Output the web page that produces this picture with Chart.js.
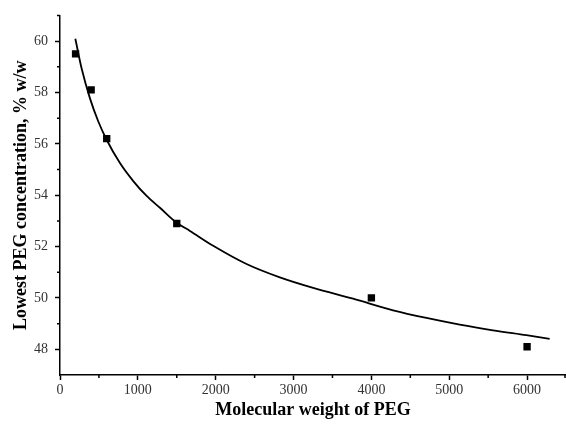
<!DOCTYPE html>
<html>
<head>
<meta charset="utf-8">
<script src="https://cdn.jsdelivr.net/npm/chart.js@4"></script>
<style>
  body { margin: 0; background: #fff; }
  #wrap { width: 566px; height: 430px; }
</style>
</head>
<body>
<div id="wrap"><canvas id="chart" width="566" height="430"></canvas></div>
<script>
// measured points
const pegWeight = [200, 400, 600, 1500, 4000, 6000];
const pegConc = [59.5, 58.1, 56.2, 52.9, 50.0, 48.1];

// fitted curve
const curveX = [197, 278, 385, 492, 599, 770, 941, 1113, 1284, 1498, 1669, 1968, 2396, 2824, 3252, 3765, 4279, 4707, 5135, 5562, 5991, 6290];
const curveY = [60.09, 58.93, 57.77, 56.87, 56.16, 55.25, 54.55, 53.97, 53.51, 52.93, 52.61, 52.03, 51.32, 50.80, 50.39, 49.97, 49.52, 49.22, 48.96, 48.74, 48.55, 48.41];

// tick labels
const xTicks = [0, 1000, 2000, 3000, 4000, 5000, 6000];
const yTicks = [48, 50, 52, 54, 56, 58, 60];
const xMinor = [500, 1500, 2500, 3500, 4500, 5500, 6500];
const yMinor = [49, 51, 53, 55, 57, 59, 61];

const serif = 'Liberation Serif';

// small minor ticks, placed with the chart's own scales
const minorTicks = {
    id: 'minorTicks',
    afterDraw(chart) {
        const { ctx, scales } = chart;
        const x = scales.x, y = scales.y;
        ctx.save();
        ctx.strokeStyle = '#000';
        ctx.lineWidth = 1.5;
        ctx.beginPath();
        xMinor.forEach(v => {
            const px = Math.min(x.getPixelForValue(v), x.right - 1);
            ctx.moveTo(px, x.top);
            ctx.lineTo(px, x.top + 3);
        });
        yMinor.forEach(v => {
            const py = y.getPixelForValue(v);
            ctx.moveTo(y.right, py);
            ctx.lineTo(y.right - 3, py);
        });
        ctx.stroke();
        ctx.restore();
    }
};

new Chart(document.getElementById('chart'), {
    type: 'scatter',
    data: {
        datasets: [
            {
                label: 'data',
                data: pegWeight.map((w, i) => ({ x: w, y: pegConc[i] })),
                pointStyle: 'rect',
                pointRadius: 5.2,
                backgroundColor: '#000',
                borderColor: '#000',
                borderWidth: 0
            },
            {
                label: 'fit',
                data: curveX.map((w, i) => ({ x: w, y: curveY[i] })),
                showLine: true,
                pointRadius: 0,
                borderColor: '#000',
                borderWidth: 1.8,
                cubicInterpolationMode: 'monotone'
            }
        ]
    },
    options: {
        responsive: false,
        animation: false,
        layout: { autoPadding: false, padding: { top: 14, right: 0, left: 0, bottom: 0 } },
        plugins: { legend: { display: false }, tooltip: { enabled: false } },
        scales: {
            x: {
                type: 'linear',
                min: 0,
                max: 6500,
                afterBuildTicks: s => { s.ticks = xTicks.map(v => ({ value: v })); },
                afterFit: s => { s.height = 55; },
                border: { display: true, color: '#000', width: 1.5 },
                grid: { drawOnChartArea: false, drawTicks: true, tickLength: 5, tickColor: '#000', tickWidth: 1.5 },
                ticks: {
                    color: '#333',
                    padding: 2,
                    maxRotation: 0,
                    autoSkip: false,
                    callback: v => String(v),
                    font: { family: serif, size: 14 }
                },
                title: {
                    display: true,
                    text: 'Molecular weight of PEG',
                    color: '#000',
                    padding: { top: 0, bottom: 9 },
                    font: { family: serif, size: 18, weight: 'bold' }
                }
            },
            y: {
                min: 47,
                max: 61,
                afterBuildTicks: s => { s.ticks = yTicks.map(v => ({ value: v })); },
                afterFit: s => { s.width = 60; },
                border: { display: true, color: '#000', width: 1.5 },
                grid: { drawOnChartArea: false, drawTicks: true, tickLength: 5, tickColor: '#000', tickWidth: 1.5 },
                ticks: {
                    color: '#333',
                    padding: 7,
                    autoSkip: false,
                    callback: v => String(v),
                    font: { family: serif, size: 14 }
                },
                title: {
                    display: true,
                    text: 'Lowest PEG concentration, % w/w',
                    color: '#000',
                    padding: { top: 11, bottom: 0 },
                    font: { family: serif, size: 18, weight: 'bold' }
                }
            }
        }
    },
    plugins: [minorTicks]
});
</script>
</body>
</html>
